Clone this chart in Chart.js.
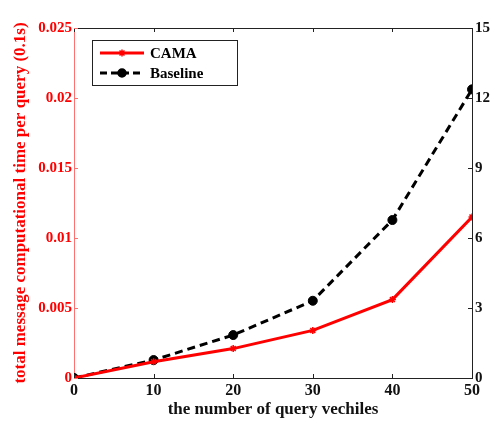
<!DOCTYPE html>
<html>
<head>
<meta charset="utf-8">
<script src="https://cdn.jsdelivr.net/npm/chart.js@4"></script>
<style>
  html, body { margin: 0; padding: 0; background: #fff; }
  #wrap { width: 500px; height: 423px; }
</style>
</head>
<body>
<div id="wrap"><canvas id="chart"></canvas></div>
<script>
const vehicles = [0, 10, 20, 30, 40, 50];
const camaTime = [0, 0.00116, 0.0021, 0.0034, 0.0056, 0.0115];   // left axis
const baselineTime = [0, 0.77, 1.84, 3.31, 6.77, 12.37];        // right axis
const seriesNames = ['CAMA', 'Baseline'];

const serif = "'Liberation Serif', 'Times New Roman', serif";

// box, inward ticks and legend box, MATLAB style
const framePlugin = {
    id: 'frame',
    afterDraw(chart) {
        const ctx = chart.ctx;
        const a = chart.chartArea;
        const x = chart.scales.x, y = chart.scales.y, y1 = chart.scales.y1;
        ctx.save();
        ctx.lineWidth = 1;
        ctx.strokeStyle = '#222';
        ctx.beginPath();
        ctx.moveTo(a.left, a.top + 0.5);
        ctx.lineTo(a.right, a.top + 0.5);
        ctx.stroke();

        const len = 4;
        ctx.beginPath();
        x.ticks.forEach(t => {
            const px = Math.round(x.getPixelForValue(t.value)) + 0.5;
            ctx.moveTo(px, a.bottom); ctx.lineTo(px, a.bottom - len);
            ctx.moveTo(px, a.top); ctx.lineTo(px, a.top + len);
        });
        y1.ticks.forEach(t => {
            const py = Math.round(y1.getPixelForValue(t.value)) + 0.5;
            ctx.moveTo(a.right, py); ctx.lineTo(a.right - len, py);
        });
        ctx.stroke();

        ctx.strokeStyle = '#ff7070';
        ctx.beginPath();
        y.ticks.forEach(t => {
            const py = Math.round(y.getPixelForValue(t.value)) + 0.5;
            ctx.moveTo(a.left, py); ctx.lineTo(a.left + len, py);
        });
        ctx.stroke();

        // legend
        const bx = 92.5, by = 40.5, bw = 145, bh = 45;
        ctx.fillStyle = '#fff';
        ctx.fillRect(bx, by, bw, bh);
        ctx.strokeStyle = '#222';
        ctx.strokeRect(bx, by, bw, bh);

        const rows = [
            { y: 53, color: '#ff0000', dash: [], style: 'star', r: 3.5 },
            { y: 73, color: '#000000', dash: [7, 4], style: 'circle', r: 4 }
        ];
        rows.forEach((row, i) => {
            ctx.strokeStyle = row.color;
            ctx.lineWidth = 3;
            ctx.setLineDash(row.dash);
            ctx.beginPath();
            ctx.moveTo(100, row.y); ctx.lineTo(144, row.y);
            ctx.stroke();
            ctx.setLineDash([]);
            ctx.lineWidth = 1.5;
            ctx.fillStyle = row.color;
            Chart.helpers.drawPoint(ctx, { pointStyle: row.style, rotation: 0, radius: row.r, borderWidth: 1.5 }, 122, row.y);
            ctx.fillStyle = '#000';
            ctx.font = 'bold 15px ' + serif;
            ctx.textBaseline = 'middle';
            ctx.textAlign = 'left';
            ctx.fillText(seriesNames[i], 150, row.y + 1);
        });
        ctx.restore();
    }
};

new Chart(document.getElementById('chart'), {
    type: 'line',
    data: {
        labels: vehicles,
        datasets: [
            {
                label: seriesNames[0],
                data: camaTime,
                yAxisID: 'y',
                borderColor: '#ff0000',
                backgroundColor: '#ff0000',
                borderWidth: 3,
                pointStyle: 'star',
                pointRadius: 3.5,
                pointBorderWidth: 1.5,
                tension: 0
            },
            {
                label: seriesNames[1],
                data: baselineTime,
                yAxisID: 'y1',
                borderColor: '#000000',
                backgroundColor: '#000000',
                borderWidth: 3,
                borderDash: [8, 5],
                pointStyle: 'circle',
                pointRadius: 4.5,
                pointBorderWidth: 1,
                tension: 0
            }
        ]
    },
    options: {
        responsive: true,
        maintainAspectRatio: false,
        animation: false,
        layout: { padding: { top: 28, left: 0, right: 0, bottom: 0 } },
        plugins: {
            legend: { display: false },
            tooltip: { enabled: false }
        },
        scales: {
            x: {
                type: 'linear',
                min: 0,
                max: 50,
                ticks: { stepSize: 10, color: '#111', padding: 3, font: { family: serif, size: 16, weight: 'bold' } },
                grid: { display: false, drawTicks: false },
                border: { display: true, color: '#222', width: 1 },
                title: {
                    display: true,
                    text: 'the number of query vechiles',
                    color: '#111',
                    padding: { top: 0, bottom: 3 },
                    font: { family: serif, size: 17, weight: 'bold' }
                },
                afterFit(scale) { scale.height = 45; }
            },
            y: {
                position: 'left',
                min: 0,
                max: 0.025,
                ticks: {
                    stepSize: 0.005,
                    color: '#ff0000',
                    padding: 2,
                    font: { family: serif, size: 15, weight: 'bold' },
                    callback: v => String(+v.toFixed(3))
                },
                grid: { display: false, drawTicks: false },
                border: { display: true, color: '#ff7070', width: 1 },
                title: {
                    display: true,
                    text: 'total message computational time per query (0.1s)',
                    color: '#ff0000',
                    padding: { top: 10, bottom: 0 },
                    font: { family: serif, size: 17, weight: 'bold' }
                },
                afterFit(scale) { scale.width = 74; }
            },
            y1: {
                position: 'right',
                min: 0,
                max: 15,
                ticks: { stepSize: 3, color: '#111', padding: 3, font: { family: serif, size: 15, weight: 'bold' } },
                grid: { display: false, drawTicks: false },
                border: { display: true, color: '#222', width: 1 },
                afterFit(scale) { scale.width = 28; }
            }
        }
    },
    plugins: [framePlugin]
});
</script>
</body>
</html>
